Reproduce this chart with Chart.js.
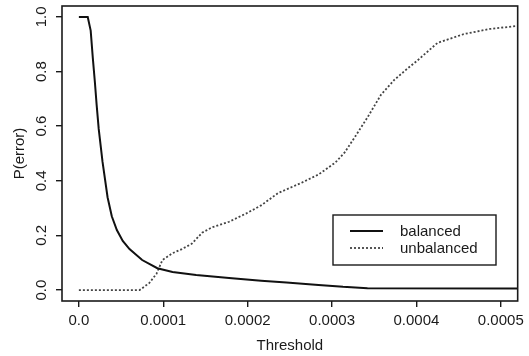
<!DOCTYPE html>
<html>
<head>
<meta charset="utf-8">
<script src="https://cdn.jsdelivr.net/npm/chart.js@4.4.1/dist/chart.umd.min.js"></script>
<style>
  html, body { margin: 0; padding: 0; background: #fff; }
  #wrap { width: 529px; height: 356px; }
</style>
</head>
<body>
<div id="wrap"><canvas id="myChart" width="529" height="356"></canvas></div>
<script>
// thresholds and error rates
var balancedX = [0, 0.0000105, 0.000014, 0.0000165, 0.000019, 0.000021, 0.0000235, 0.000028, 0.000034, 0.000039, 0.000045, 0.000052, 0.00006, 0.000075, 0.000093, 0.000111, 0.000139, 0.000178, 0.000216, 0.000246, 0.000284, 0.000313, 0.000342, 0.00052];
var balancedY = [1, 1, 0.95, 0.85, 0.76, 0.68, 0.59, 0.47, 0.34, 0.27, 0.22, 0.18, 0.15, 0.11, 0.08, 0.066, 0.055, 0.044, 0.034, 0.028, 0.019, 0.012, 0.007, 0.006];
var unbalancedX = [0, 0.000072, 0.0000835, 0.000092, 0.000099, 0.000111, 0.000122, 0.000134, 0.000146, 0.000158, 0.000178, 0.000198, 0.000216, 0.000236, 0.000264, 0.000284, 0.000304, 0.000315, 0.000327, 0.000342, 0.000358, 0.000374, 0.000389, 0.000401, 0.000425, 0.000456, 0.000487, 0.00052];
var unbalancedY = [0, 0, 0.026, 0.06, 0.11, 0.135, 0.15, 0.17, 0.21, 0.23, 0.25, 0.28, 0.31, 0.355, 0.393, 0.423, 0.467, 0.504, 0.56, 0.632, 0.715, 0.77, 0.81, 0.84, 0.905, 0.937, 0.956, 0.967];
var seriesNames = ["balanced", "unbalanced"];
var xTicks = [0, 0.0001, 0.0002, 0.0003, 0.0004, 0.0005];
var xTickLabels = ["0.0", "0.0001", "0.0002", "0.0003", "0.0004", "0.0005"];
var yTicks = [0, 0.2, 0.4, 0.6, 0.8, 1.0];
var yTickLabels = ["0.0", "0.2", "0.4", "0.6", "0.8", "1.0"];

var ink = "#1a1a1a";
var fontFamily = "'Liberation Sans', Arial, Helvetica, sans-serif";

function toPoints(xs, ys){
	var pts = [];
	for(let i=0;i<xs.length;i++){
		pts.push({x: xs[i], y: ys[i]});
	}
	return pts;
}

// box round the plot, rotated y labels, legend inside the plot
var framePlugin = {
	id: "frame",
	afterDraw: function(chart){
		var ctx = chart.ctx;
		var a = chart.chartArea;
		ctx.save();
		ctx.strokeStyle = ink;
		ctx.lineWidth = 1.6;
		ctx.strokeRect(a.left, a.top, a.right - a.left, a.bottom - a.top);

		var ys = chart.scales.y;
		ctx.fillStyle = ink;
		ctx.font = "15px " + fontFamily;
		ctx.textAlign = "center";
		ctx.textBaseline = "middle";
		for(let i=0;i<yTicks.length;i++){
			var py = ys.getPixelForValue(yTicks[i]);
			ctx.save();
			ctx.translate(42, py);
			ctx.rotate(-Math.PI/2);
			ctx.fillText(yTickLabels[i], 0, 0);
			ctx.restore();
		}

		// legend
		var lx = 333, ly = 215, lw = 163, lh = 50;
		ctx.fillStyle = "#fff";
		ctx.fillRect(lx, ly, lw, lh);
		ctx.lineWidth = 1.4;
		ctx.strokeStyle = ink;
		ctx.strokeRect(lx, ly, lw, lh);
		var ds = chart.data.datasets;
		for(let i=0;i<ds.length;i++){
			var rowY = ly + 16 + i*17;
			ctx.beginPath();
			ctx.setLineDash(ds[i].borderDash || []);
			ctx.strokeStyle = ds[i].borderColor;
			ctx.lineWidth = ds[i].borderWidth;
			ctx.moveTo(350, rowY);
			ctx.lineTo(383, rowY);
			ctx.stroke();
			ctx.setLineDash([]);
			ctx.fillStyle = ink;
			ctx.textAlign = "left";
			ctx.fillText(ds[i].label, 400, rowY + 1);
		}
		ctx.restore();
	}
};

new Chart("myChart", {
	type: "line",
	data: {
		datasets: [{
			label: seriesNames[0],
			data: toPoints(balancedX, balancedY),
			borderColor: "#111",
			borderWidth: 2,
			pointRadius: 0,
			tension: 0,
			fill: false
		}, {
			label: seriesNames[1],
			data: toPoints(unbalancedX, unbalancedY),
			borderColor: "#444",
			borderWidth: 1.8,
			borderDash: [2, 2],
			pointRadius: 0,
			tension: 0,
			fill: false
		}]
	},
	options: {
		responsive: false,
		animation: false,
		layout: {padding: {left: 0, right: 7, top: 6, bottom: 0}},
		plugins: {
			legend: {display: false},
			tooltip: {enabled: false}
		},
		scales: {
			x: {
				type: "linear",
				min: -0.00002,
				max: 0.00052,
				afterBuildTicks: function(s){ s.ticks = xTicks.map(function(v){ return {value: v}; }); },
				afterFit: function(s){ s.height = 55; },
				border: {display: false},
				grid: {drawOnChartArea: false, drawTicks: true, tickLength: 6, color: ink, lineWidth: 1.4},
				ticks: {
					color: ink,
					font: {size: 15, family: fontFamily},
					padding: 5,
					maxRotation: 0,
					callback: function(v){ return xTickLabels[xTicks.indexOf(v)]; }
				},
				title: {display: true, text: "Threshold", color: ink, font: {size: 15, family: fontFamily}, padding: {top: 0, bottom: 1}}
			},
			y: {
				type: "linear",
				min: -0.04,
				max: 1.04,
				afterBuildTicks: function(s){ s.ticks = yTicks.map(function(v){ return {value: v}; }); },
				afterFit: function(s){ s.width = 62; },
				border: {display: false},
				grid: {drawOnChartArea: false, drawTicks: true, tickLength: 6, color: ink, lineWidth: 1.4},
				ticks: {display: false},
				title: {display: true, text: "P(error)", color: ink, font: {size: 15, family: fontFamily}, padding: {top: 11, bottom: 0}}
			}
		}
	},
	plugins: [framePlugin]
});
</script>
</body>
</html>
